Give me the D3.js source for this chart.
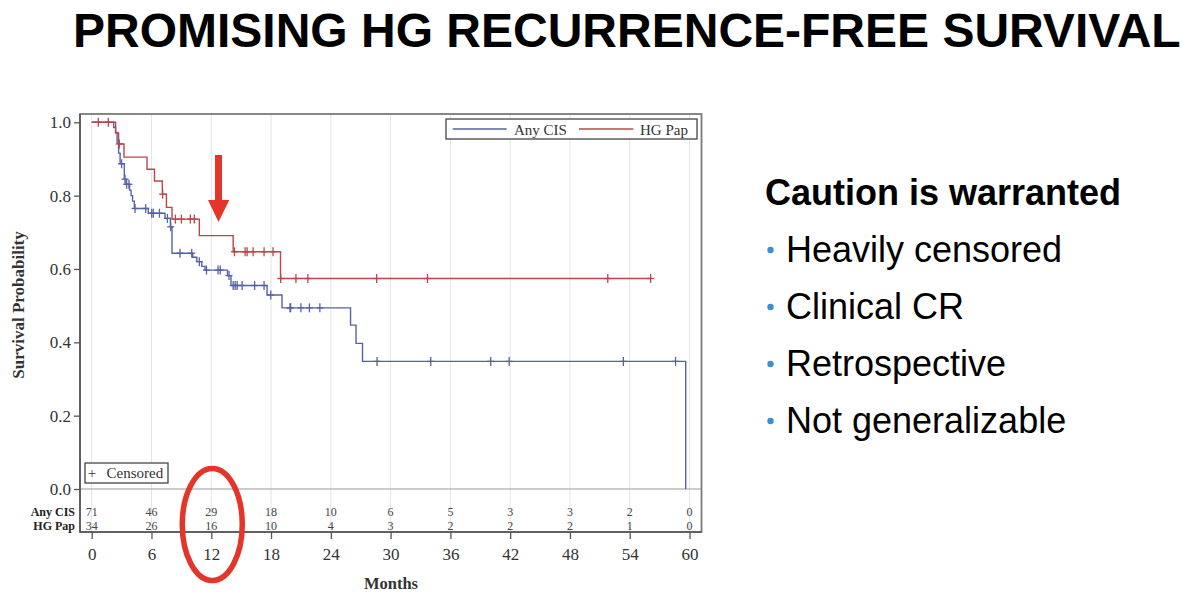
<!DOCTYPE html>
<html><head><meta charset="utf-8">
<script src="https://cdn.jsdelivr.net/npm/d3@7"></script>
<style>
html,body{margin:0;padding:0;background:#fff;}
svg{display:block;}
</style></head>
<body>
<svg id="c" width="1200" height="612"></svg>
<script>
// ---------- data ----------
const titleText = "PROMISING HG RECURRENCE-FREE SURVIVAL";
const seriesNames = ["Any CIS", "HG Pap"];
const monthTicks = [0, 6, 12, 18, 24, 30, 36, 42, 48, 54, 60];
const survTicks = [0, 0.2, 0.4, 0.6, 0.8, 1.0];
const riskAnyCIS = [71, 46, 29, 18, 10, 6, 5, 3, 3, 2, 0];
const riskHGPap = [34, 26, 16, 10, 4, 3, 2, 2, 2, 1, 0];

// step points: [month, survival after step]
const stepsAnyCIS = [
  [0, 1.0], [2.2, 0.986], [2.4, 0.972], [2.55, 0.944], [2.7, 0.916], [2.85, 0.887],
  [3.27, 0.845], [3.45, 0.831], [3.8, 0.815], [3.95, 0.80], [4.1, 0.785], [4.28, 0.765],
  [5.68, 0.752], [7.36, 0.738], [7.9, 0.715], [8.06, 0.643],
  [10.14, 0.632], [10.55, 0.620], [11.05, 0.607], [11.37, 0.597],
  [13.63, 0.582], [13.98, 0.555], [17.6, 0.529], [19.1, 0.494],
  [25.98, 0.447], [26.53, 0.397], [27.18, 0.348], [59.62, 0.0]
];
const endAnyCIS = 59.62;
const censorAnyCIS = [3.0, 3.34, 3.51, 3.74, 4.35, 5.42, 6.02, 6.18, 6.8, 7.6, 7.93, 8.86,
  10.04, 10.8, 11.52, 12.68, 12.9, 13.78, 14.2, 14.4, 14.6, 15.1, 16.35, 17.3, 17.97,
  19.9, 19.97, 21.0, 21.85, 22.9, 28.64, 34.03, 40.05, 41.9, 53.36, 58.6];

const stepsHGPap = [
  [0, 1.0], [2.4, 0.971], [2.7, 0.941], [3.24, 0.905], [5.55, 0.872], [6.3, 0.840],
  [7.09, 0.804], [7.5, 0.768], [8.06, 0.736], [10.8, 0.691], [14.2, 0.647], [18.95, 0.574]
];
const endHGPap = 56.1;
const censorHGPap = [0.66, 1.67, 2.77, 7.12, 8.4, 9.0, 9.9, 10.3, 14.33, 15.4, 15.6, 16.2,
  17.3, 18.2, 18.97, 20.5, 21.7, 28.6, 33.7, 51.8, 56.1];

const bulletHeading = "Caution is warranted";
const bullets = ["Heavily censored", "Clinical CR", "Retrospective", "Not generalizable"];

// ---------- layout ----------
const svg = d3.select("#c");
const colBlue = "#5662a6", colRed = "#b8474b", colAnnot = "#e5352a";
const frame = {left: 80, right: 701.5, top: 114, zeroY: 489, bottom: 532};
const x = d3.scaleLinear().domain([0, 60]).range([91.7, 689.5]);
const y = d3.scaleLinear().domain([0, 1]).range([489, 122.3]);
const serif = "'Liberation Serif','Times New Roman',serif";
const sans = "'Liberation Sans',Arial,Helvetica,sans-serif";

// title
svg.append("text").attr("x", 73).attr("y", 47)
  .attr("font-family", sans).attr("font-weight", "bold").attr("font-size", 48)
  .attr("fill", "#000").text(titleText);

// grid
svg.append("g").selectAll("line").data(monthTicks).join("line")
  .attr("x1", d => x(d)).attr("x2", d => x(d))
  .attr("y1", frame.top).attr("y2", frame.bottom)
  .attr("stroke", "#e4e4ec").attr("stroke-width", 1);

// zero separator line
svg.append("line").attr("x1", frame.left).attr("x2", frame.right)
  .attr("y1", y(0)).attr("y2", y(0)).attr("stroke", "#9a9a9a").attr("stroke-width", 1.2);

// frame
svg.append("rect").attr("x", frame.left).attr("y", frame.top)
  .attr("width", frame.right - frame.left).attr("height", frame.bottom - frame.top)
  .attr("fill", "none").attr("stroke", "#7a7a7a").attr("stroke-width", 1.8);
svg.append("line").attr("x1", frame.left).attr("x2", frame.left)
  .attr("y1", frame.top).attr("y2", frame.bottom).attr("stroke", "#555").attr("stroke-width", 1.5);
svg.append("line").attr("x1", frame.left).attr("x2", frame.right)
  .attr("y1", frame.bottom).attr("y2", frame.bottom).attr("stroke", "#555").attr("stroke-width", 1.5);

// y axis
const yAxis = svg.append("g").attr("transform", `translate(${frame.left},0)`)
  .call(d3.axisLeft(y).tickValues(survTicks).tickFormat(d3.format(".1f")).tickSize(6).tickPadding(3));
yAxis.select(".domain").remove();
yAxis.selectAll("line").attr("stroke", "#555").attr("stroke-width", 1.3);
yAxis.selectAll("text").attr("font-family", serif).attr("font-size", 17).attr("fill", "#333");

// x axis
const xAxis = svg.append("g").attr("transform", `translate(0,${frame.bottom})`)
  .call(d3.axisBottom(x).tickValues(monthTicks).tickFormat(d3.format("d")).tickSize(7).tickPadding(9));
xAxis.select(".domain").remove();
xAxis.selectAll("line").attr("stroke", "#555").attr("stroke-width", 1.3);
xAxis.selectAll("text").attr("font-family", serif).attr("font-size", 17).attr("fill", "#333");

// axis titles
svg.append("text").attr("x", 391).attr("y", 589).attr("text-anchor", "middle")
  .attr("font-family", serif).attr("font-weight", "bold").attr("font-size", 16.5)
  .attr("fill", "#333").text("Months");
svg.append("text").attr("transform", "translate(24,305) rotate(-90)").attr("text-anchor", "middle")
  .attr("font-family", serif).attr("font-weight", "bold").attr("font-size", 17)
  .attr("fill", "#333").text("Survival Probability");

// risk table
const riskRows = [{name: seriesNames[0], vals: riskAnyCIS, yb: 515.7}, {name: seriesNames[1], vals: riskHGPap, yb: 530}];
riskRows.forEach(r => {
  svg.append("text").attr("x", 75).attr("y", r.yb).attr("text-anchor", "end")
    .attr("font-family", serif).attr("font-weight", "bold").attr("font-size", 12)
    .attr("fill", "#222").text(r.name);
  svg.append("g").selectAll("text").data(r.vals).join("text")
    .attr("x", (d, i) => x(monthTicks[i])).attr("y", r.yb).attr("text-anchor", "middle")
    .attr("font-family", serif).attr("font-size", 12).attr("fill", "#444").text(d => d);
});

// curves
function valueAt(steps, t) {
  let v = steps[0][1];
  for (const s of steps) { if (s[0] <= t) v = s[1]; }
  return v;
}
const line = d3.line().x(d => x(d[0])).y(d => y(d[1])).curve(d3.curveStepAfter);
function drawSeries(steps, endT, censors, col) {
  const pts = steps.slice();
  if (pts[pts.length - 1][0] < endT) pts.push([endT, pts[pts.length - 1][1]]);
  svg.append("path").attr("d", line(pts)).attr("fill", "none")
    .attr("stroke", col).attr("stroke-width", 1.4);
  const g = svg.append("g").attr("stroke", col).attr("stroke-width", 1.3);
  censors.forEach(t => {
    const cx = x(t), cy = y(valueAt(steps, t));
    g.append("line").attr("x1", cx).attr("x2", cx).attr("y1", cy - 4.5).attr("y2", cy + 4.5);
    g.append("line").attr("x1", cx - 3.5).attr("x2", cx + 3.5).attr("y1", cy).attr("y2", cy);
  });
}
drawSeries(stepsAnyCIS, endAnyCIS, censorAnyCIS, colBlue);
drawSeries(stepsHGPap, endHGPap, censorHGPap, colRed);

// series legend
const lg = svg.append("g");
lg.append("rect").attr("x", 446).attr("y", 119).attr("width", 251).attr("height", 20)
  .attr("fill", "#fff").attr("stroke", "#444").attr("stroke-width", 1.3);
lg.append("line").attr("x1", 452.7).attr("x2", 506.7).attr("y1", 129).attr("y2", 129).attr("stroke", colBlue).attr("stroke-width", 1.4);
lg.append("text").attr("x", 514).attr("y", 134.5).attr("font-family", serif).attr("font-size", 15).attr("fill", "#333").text(seriesNames[0]);
lg.append("line").attr("x1", 579).attr("x2", 633.3).attr("y1", 129).attr("y2", 129).attr("stroke", colRed).attr("stroke-width", 1.4);
lg.append("text").attr("x", 640).attr("y", 134.5).attr("font-family", serif).attr("font-size", 15).attr("fill", "#333").text(seriesNames[1]);

// censored legend
const cg = svg.append("g");
cg.append("rect").attr("x", 85).attr("y", 463).attr("width", 83).attr("height", 20)
  .attr("fill", "#fff").attr("stroke", "#444").attr("stroke-width", 1.3);
cg.append("text").attr("x", 92).attr("y", 478).attr("text-anchor", "middle").attr("font-family", serif).attr("font-size", 15).attr("fill", "#333").text("+");
cg.append("text").attr("x", 106.5).attr("y", 478).attr("font-family", serif).attr("font-size", 15).attr("fill", "#333").text("Censored");

// annotations: arrow and ellipse
svg.append("polygon")
  .attr("points", "215,155 222,155 222,200 229.3,200 218.5,222 208,200 215,200")
  .attr("fill", colAnnot);
svg.append("ellipse").attr("cx", x(12) + 1).attr("cy", 524.5).attr("rx", 30).attr("ry", 56)
  .attr("fill", "none").attr("stroke", colAnnot).attr("stroke-width", 5.5);

// right-hand text
svg.append("text").attr("x", 765).attr("y", 205).attr("font-family", sans).attr("font-weight", "bold")
  .attr("font-size", 36).attr("fill", "#000").text(bulletHeading);
const bg = svg.append("g").selectAll("g").data(bullets).join("g")
  .attr("transform", (d, i) => `translate(0,${262 + i * 57})`);
bg.append("circle").attr("cx", 770.5).attr("cy", -12).attr("r", 3.2).attr("fill", "#3b8fd4");
bg.append("text").attr("x", 786).attr("y", 0).attr("font-family", sans).attr("font-size", 36)
  .attr("fill", "#000").text(d => d);
</script>
</body></html>
